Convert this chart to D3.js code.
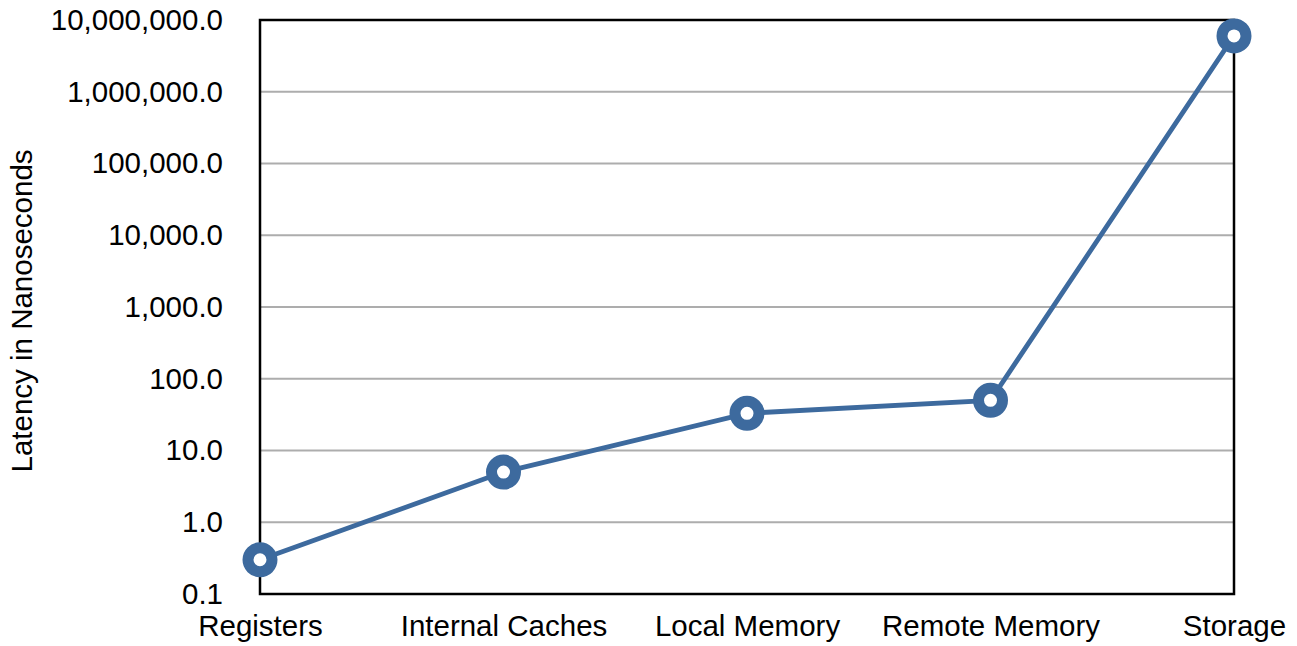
<!DOCTYPE html>
<html>
<head>
<meta charset="utf-8">
<script src="https://cdn.jsdelivr.net/npm/d3@7/dist/d3.min.js"></script>
<style>
  html, body { margin: 0; padding: 0; background: #fff; }
  svg { display: block; font-family: "Liberation Sans", Arial, Helvetica, sans-serif; }
</style>
</head>
<body>
<svg id="chart" width="1297" height="646"></svg>
<script>
// Memory hierarchy access latency (nanoseconds)
const categories = ["Registers", "Internal Caches", "Local Memory", "Remote Memory", "Storage"];
const latencies = [0.3, 5, 33, 50, 6000000];
const yTicks = [0.1, 1, 10, 100, 1000, 10000, 100000, 1000000, 10000000];
const yTitle = "Latency in Nanoseconds";

const svg = d3.select("#chart");
const margin = { top: 20, right: 63, bottom: 52, left: 260 };
const width = 1297 - margin.left - margin.right;
const height = 646 - margin.top - margin.bottom;

const g = svg.append("g").attr("transform", `translate(${margin.left},${margin.top})`);

const x = d3.scalePoint().domain(categories).range([0, width]).padding(0);
const y = d3.scaleLog().domain([0.1, 10000000]).range([height, 0]);

const fmt = d3.format(",.1f");
const color = "#3d6a9e";
const fontSize = 29.5;

// horizontal gridlines
g.append("g")
  .selectAll("line")
  .data(yTicks)
  .join("line")
  .attr("x1", 0).attr("x2", width)
  .attr("y1", d => y(d)).attr("y2", d => y(d))
  .attr("stroke", "#adadad")
  .attr("stroke-width", 2);

// y axis labels
const yAxis = d3.axisLeft(y).tickValues(yTicks).tickFormat(fmt).tickSize(0).tickPadding(37);
g.append("g").call(yAxis)
  .call(s => s.select(".domain").remove())
  .selectAll("text")
  .attr("font-size", fontSize)
  .attr("fill", "#000")
  .attr("font-family", "'Liberation Sans', Arial, Helvetica, sans-serif");

// x axis labels
const xAxis = d3.axisBottom(x).tickSize(0).tickPadding(21);
g.append("g").attr("transform", `translate(0,${height})`).call(xAxis)
  .call(s => s.select(".domain").remove())
  .selectAll("text")
  .attr("font-size", fontSize)
  .attr("fill", "#000")
  .attr("font-family", "'Liberation Sans', Arial, Helvetica, sans-serif");

// plot frame
g.append("rect")
  .attr("x", 0).attr("y", 0)
  .attr("width", width).attr("height", height)
  .attr("fill", "none")
  .attr("stroke", "#000")
  .attr("stroke-width", 2.5);

// y axis title
svg.append("text")
  .attr("transform", `translate(32,${margin.top + height / 2 + 4}) rotate(-90)`)
  .attr("text-anchor", "middle")
  .attr("font-size", fontSize)
  .attr("fill", "#000")
  .text(yTitle);

// series line
const pts = categories.map((c, i) => ({ c, v: latencies[i] }));
g.append("path")
  .datum(pts)
  .attr("fill", "none")
  .attr("stroke", color)
  .attr("stroke-width", 4.8)
  .attr("d", d3.line().x(d => x(d.c)).y(d => y(d.v)));

// ring markers
g.append("g")
  .selectAll("circle")
  .data(pts)
  .join("circle")
  .attr("cx", d => x(d.c))
  .attr("cy", d => y(d.v))
  .attr("r", 12)
  .attr("fill", "#fff")
  .attr("stroke", color)
  .attr("stroke-width", 11);
</script>
</body>
</html>
